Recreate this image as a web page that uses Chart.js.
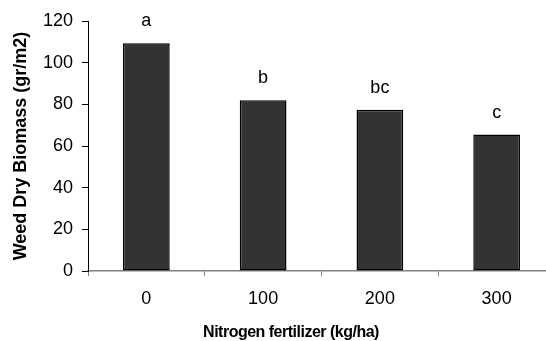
<!DOCTYPE html>
<html>
<head>
<meta charset="utf-8">
<script src="https://cdn.jsdelivr.net/npm/chart.js@4"></script>
<style>
  html, body { margin: 0; padding: 0; background: #fff; overflow: hidden; }
  #wrap { width: 560px; height: 341px; position: relative; }
</style>
</head>
<body>
<div id="wrap"><canvas id="chart"></canvas></div>
<script>
// -------------------------------
// Data
// -------------------------------
const nitrogenRates = ["0", "100", "200", "300"];
const biomass = [109.3, 82, 77.4, 65.5];
const groupLetters = ["a", "b", "bc", "c"];
const yTitle = "Weed Dry Biomass (gr/m2)";
const xTitle = "Nitrogen fertilizer (kg/ha)";

const FONT = "'Liberation Sans', Arial, sans-serif";

// -------------------------------
// Letters above bars + x title
// -------------------------------
const labelsPlugin = {
  id: "barLetters",
  afterDatasetsDraw(chart) {
    const ctx = chart.ctx;
    const meta = chart.getDatasetMeta(0);
    ctx.save();
    ctx.fillStyle = "#000";
    ctx.font = "18px " + FONT;
    ctx.textAlign = "center";
    ctx.textBaseline = "middle";
    meta.data.forEach((bar, i) => {
      ctx.fillText(groupLetters[i], bar.x, bar.y - 22);
    });

    // x axis title
    ctx.font = "bold 16px " + FONT;
    ctx.letterSpacing = "-0.5px";
    ctx.fillText(xTitle, chart.chartArea.left + 203, 333);
    ctx.restore();
  },
};

// -------------------------------
// Chart
// -------------------------------
new Chart(document.getElementById("chart"), {
  type: "bar",
  data: {
    labels: nitrogenRates,
    datasets: [
      {
        data: biomass,
        backgroundColor: "#333333",
        borderColor: "#000000",
        borderWidth: 1.5,
        borderSkipped: false,
        barPercentage: 0.8,
        categoryPercentage: 0.5,
      },
    ],
  },
  options: {
    responsive: true,
    maintainAspectRatio: false,
    animation: false,
    layout: { padding: { top: 21, right: 5, left: 0, bottom: 0 } },
    plugins: {
      legend: { display: false },
      tooltip: { enabled: false },
    },
    scales: {
      x: {
        offset: true,
        grid: {
          drawOnChartArea: false,
          offset: true,
          tickLength: 5,
          color: "#808080",
        },
        border: { color: "#808080", width: 1.5 },
        ticks: {
          color: "#000",
          padding: 12,
          font: { family: FONT, size: 18 },
        },
        afterFit(scale) {
          scale.height = 70;
        },
      },
      y: {
        min: 0,
        max: 120,
        ticks: {
          stepSize: 20,
          color: "#000",
          padding: 9,
          font: { family: FONT, size: 18 },
        },
        grid: {
          drawOnChartArea: false,
          tickLength: 6,
          color: "#000",
        },
        border: { color: "#000", width: 1 },
        title: {
          display: true,
          text: yTitle,
          color: "#000",
          font: { family: FONT, size: 18, weight: "bold" },
          padding: { top: 10, bottom: 0 },
        },
        afterFit(scale) {
          scale.width = 88;
        },
      },
    },
  },
  plugins: [labelsPlugin],
});
</script>
</body>
</html>
